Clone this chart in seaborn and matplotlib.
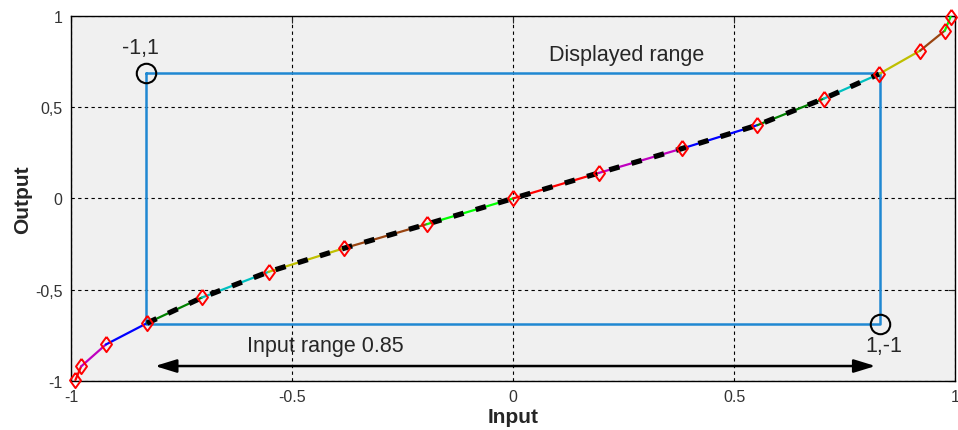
import numpy as np
import pandas as pd
import matplotlib
matplotlib.use("Agg")
import matplotlib.pyplot as plt
import seaborn as sns

# ---- data ----
x_in = [-0.99, -0.977, -0.921, -0.828, -0.703, -0.553, -0.383, -0.194, 0.0,
        0.194, 0.383, 0.553, 0.703, 0.828, 0.921, 0.977, 0.99]
y_out = [-0.995, -0.92, -0.80, -0.683, -0.542, -0.402, -0.273, -0.14, 0.0,
         0.14, 0.274, 0.402, 0.547, 0.682, 0.81, 0.92, 0.995]
seg_colors = ["#ff0000", "#bf00bf", "#0000ff", "#008000",
              "#00bfbf", "#bfbf00", "#994411", "#00ff00"]

# displayed range box and markers
rect_x = [-0.83, 0.83, 0.83, -0.83, -0.83]
rect_y = [0.685, 0.685, -0.685, -0.685, 0.685]
circle_x = [-0.83, 0.83]
circle_y = [0.685, -0.685]
arrow_x = [-0.81, 0.82]
arrow_y = -0.918

xticks = [-1, -0.5, 0, 0.5, 1]
xtick_labels = ["-1", "-0.5", "0", "0.5", "1"]
yticks = [-1, -0.5, 0, 0.5, 1]
ytick_labels = ["-1", "-0,5", "0", "0,5", "1"]

# ---- segment table for seaborn ----
rows = []
for i in range(len(x_in) - 1):
    for j in (i, i + 1):
        rows.append({"Input": x_in[j], "Output": y_out[j], "seg": f"s{i:02d}"})
seg_df = pd.DataFrame(rows)
seg_order = [f"s{i:02d}" for i in range(len(x_in) - 1)]
palette = [seg_colors[i % len(seg_colors)] for i in range(len(seg_order))]

sns.set_style("white", rc={"axes.facecolor": "#f0f0f0", "axes.edgecolor": "black"})
plt.rcParams["font.family"] = ["Liberation Sans", "DejaVu Sans"]

fig = plt.figure(figsize=(9.58, 4.31), dpi=100)
ax = fig.add_axes([0.0741, 0.1137, 0.9228, 0.8469])

sns.lineplot(data=seg_df, x="Input", y="Output", hue="seg", hue_order=seg_order,
             palette=palette, estimator=None, sort=False, legend=False,
             linewidth=1.6, ax=ax, zorder=3)

# dashed black curve over the displayed range
in_range = [(a, b) for a, b in zip(x_in, y_out) if abs(a) <= 0.83]
ax.plot([p[0] for p in in_range], [p[1] for p in in_range], color="black",
        lw=3.8, linestyle=(0, (2.0, 2.4)), zorder=4)

# red diamonds (a bit wider than matplotlib's thin diamond)
diamond = [(0, 1), (0.72, 0), (0, -1), (-0.72, 0), (0, 1)]
ax.plot(x_in, y_out, linestyle="none", marker=diamond, ms=11, mfc="none",
        mec="red", mew=1.4, zorder=5, clip_on=False)

# displayed range box
ax.plot(rect_x, rect_y, color="#1f88d2", lw=1.8, zorder=2)
ax.plot(circle_x, circle_y, linestyle="none", marker="o", ms=14, mfc="none",
        mec="black", mew=1.5, zorder=6)

ax.annotate("", xy=(arrow_x[1], arrow_y), xytext=(arrow_x[0], arrow_y),
            arrowprops=dict(arrowstyle="<|-|>,head_length=1.3,head_width=0.4",
                            color="black", lw=1.8, shrinkA=0, shrinkB=0))

ax.text(-0.844, 0.825, "-1,1", fontsize=15.5, ha="center", va="center")
ax.text(0.256, 0.79, "Displayed range", fontsize=15.5, ha="center", va="center")
ax.text(-0.424, -0.808, "Input range 0.85", fontsize=15.5, ha="center", va="center")
ax.text(0.839, -0.808, "1,-1", fontsize=15.5, ha="center", va="center")

ax.set_xlim(-1, 1)
ax.set_ylim(-1, 1)
ax.set_xticks(xticks)
ax.set_xticklabels(xtick_labels)
ax.set_yticks(yticks)
ax.set_yticklabels(ytick_labels)
ax.tick_params(direction="in", length=5, width=0.8, labelsize=11.5,
               labelcolor="#333333", top=True, right=True, pad=6)
ax.grid(True, color="black", linestyle=(0, (3, 3)), lw=0.8)
ax.set_axisbelow(True)
for s in ax.spines.values():
    s.set_linewidth(1.0)

ax.set_xlabel("Input", fontsize=15, fontweight="bold")
ax.set_ylabel("Output", fontsize=15, fontweight="bold")
ax.xaxis.set_label_coords(0.5, -0.07)
ax.yaxis.set_label_coords(-0.044, 0.5)

fig.savefig("out.png", dpi=100)
